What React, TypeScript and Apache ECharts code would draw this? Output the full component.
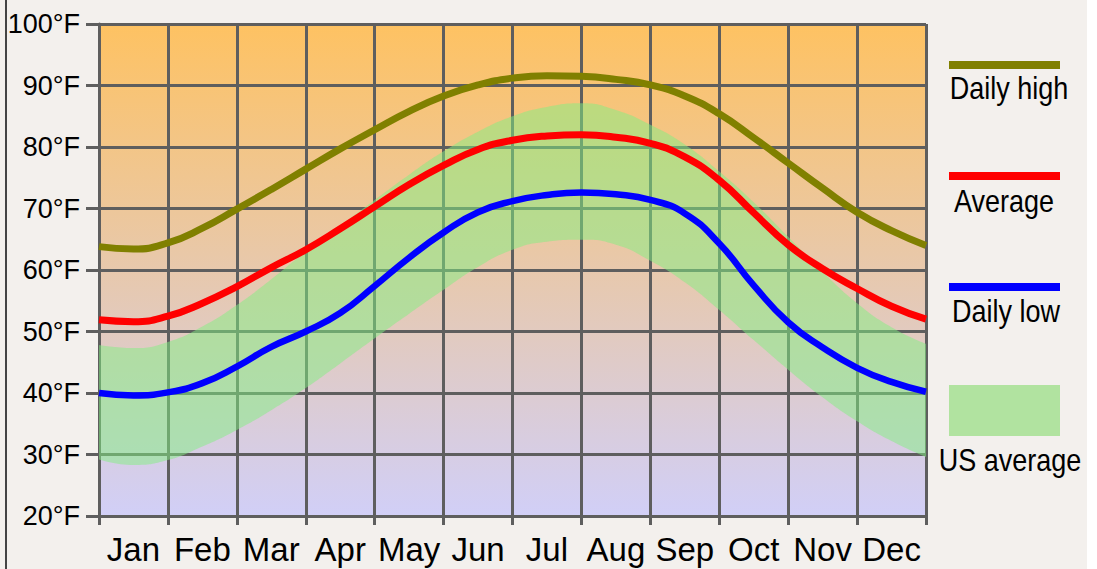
import React, { useEffect, useRef } from "react";
import * as echarts from "echarts";

const months = ["Jan", "Feb", "Mar", "Apr", "May", "Jun", "Jul", "Aug", "Sep", "Oct", "Nov", "Dec"];
// positions along the year (month index, half-month steps)
const xPos = [0, 0.5, 1, 1.5, 2, 2.5, 3, 3.5, 4, 4.5, 5, 5.5, 6, 6.5, 7, 7.5, 8, 8.5, 9, 9.5, 10, 10.5, 11, 11.5, 12];
const dailyHigh = [63.8, 63.4, 64.4, 66.8, 69.9, 73.1, 76.4, 79.7, 82.8, 85.8, 88.3, 90.1, 91.2, 91.6, 91.5, 91.0, 90.1, 88.3, 85.4, 81.5, 77.4, 73.3, 69.4, 66.4, 64.0];
const average = [51.9, 51.6, 52.5, 54.6, 57.3, 60.4, 63.3, 66.7, 70.3, 73.9, 77.0, 79.6, 81.1, 81.8, 82.0, 81.6, 80.6, 78.4, 74.6, 69.3, 64.1, 60.2, 57.0, 54.1, 52.0];
const dailyLow = [40.0, 39.6, 40.1, 41.6, 44.3, 47.5, 50.0, 53.0, 57.4, 62.0, 66.1, 69.4, 71.2, 72.2, 72.6, 72.3, 71.4, 69.2, 64.3, 57.5, 51.5, 47.4, 44.1, 41.8, 40.2];
const usAvgHigh = [47.8, 47.3, 48.3, 50.8, 54.3, 58.5, 63.0, 67.2, 71.4, 75.5, 79.3, 82.5, 85.0, 86.5, 87.1, 86.0, 83.6, 80.4, 76.0, 71.0, 65.4, 59.7, 54.6, 50.7, 48.0];
const usAvgLow = [29.2, 28.3, 29.1, 31.3, 34.0, 37.2, 40.8, 44.8, 48.9, 52.9, 56.8, 60.5, 63.3, 64.6, 64.9, 64.1, 61.5, 58.0, 53.5, 48.6, 43.8, 39.3, 35.4, 32.2, 29.6];
const yTicks = { min: 20, max: 100, interval: 10 };

const FONT = "'Liberation Sans', Arial, sans-serif";
const GRID = "#5E5E5E";

export default function App() {
  const ref = useRef<HTMLDivElement>(null);
  useEffect(() => {
    if (!ref.current) return;
    const chart = echarts.init(ref.current, null, { renderer: "svg" });
    const pts = (arr: number[]) => arr.map((v, i) => [xPos[i], v]);
    const lineSeries = (name: string, arr: number[], color: string, width: number) => ({
      name,
      type: "line",
      data: pts(arr),
      smooth: 0.5,
      symbol: "none",
      xAxisIndex: 0,
      lineStyle: { color, width, cap: "butt" },
      z: 5,
    });
    const legendItems = [
      { label: "Daily high", color: "#808000", lineY: 61, textY: 72, textX: 1009 },
      { label: "Average", color: "#FF0000", lineY: 172, textY: 185, textX: 1004 },
      { label: "Daily low", color: "#0000FF", lineY: 283, textY: 295, textX: 1006 },
    ];
    const graphics: any[] = [
      { type: "rect", shape: { x: 1087, y: 0, width: 10, height: 569 }, style: { fill: "#FFFFFF" }, silent: true },
      { type: "rect", shape: { x: 5, y: 0, width: 2, height: 569 }, style: { fill: "#444444" }, silent: true },
    ];
    const legendText = (text: string, x: number, y: number) => ({
      type: "text",
      x,
      y,
      scaleY: 1.19,
      style: { text, fontSize: 27, fontFamily: FONT, fill: "#000", align: "center", verticalAlign: "top" },
    });
    legendItems.forEach((l) => {
      graphics.push({ type: "rect", shape: { x: 949, y: l.lineY, width: 111, height: 8 }, style: { fill: l.color } });
      graphics.push(legendText(l.label, l.textX, l.textY));
    });
    graphics.push({ type: "rect", shape: { x: 949, y: 385, width: 111, height: 51 }, style: { fill: "#B1E3A0" } });
    graphics.push(legendText("US average", 1010, 444));

    chart.setOption({
      animation: false,
      backgroundColor: "#F3F0ED",
      grid: {
        left: 99,
        right: 171,
        top: 24,
        bottom: 53,
        show: true,
        borderWidth: 0,
        backgroundColor: new echarts.graphic.LinearGradient(0, 0, 0, 1, [
          { offset: 0, color: "#FEC262" },
          { offset: 1, color: "#D1CFF7" },
        ]),
      },
      xAxis: [
        {
          type: "value",
          min: 0,
          max: 12,
          interval: 1,
          axisLine: { show: true, lineStyle: { color: GRID, width: 3 } },
          axisTick: { show: true, length: 9, lineStyle: { color: GRID, width: 3 } },
          axisLabel: { show: false },
          splitLine: { show: true, lineStyle: { color: GRID, width: 3 } },
        },
        {
          type: "category",
          data: months,
          position: "bottom",
          boundaryGap: true,
          axisLine: { show: false },
          axisTick: { show: false },
          splitLine: { show: false },
          axisLabel: { interval: 0, fontSize: 33, fontFamily: FONT, color: "#000", margin: 17 },
        },
        {
          type: "category",
          data: xPos.map(String),
          boundaryGap: false,
          show: false,
        },
      ],
      yAxis: {
        type: "value",
        min: yTicks.min,
        max: yTicks.max,
        interval: yTicks.interval,
        axisLine: { show: true, lineStyle: { color: GRID, width: 3 } },
        axisTick: { show: true, length: 13, lineStyle: { color: GRID, width: 3 } },
        axisLabel: { fontSize: 27, fontFamily: FONT, color: "#000", margin: 19, formatter: (v: number) => `${v}°F` },
        splitLine: { show: true, lineStyle: { color: GRID, width: 3 } },
      },
      series: [
        {
          name: "US average low",
          type: "line",
          xAxisIndex: 2,
          stack: "us",
          data: usAvgLow,
          smooth: 0.5,
          symbol: "none",
          lineStyle: { width: 0, opacity: 0 },
          z: 3,
        },
        {
          name: "US average",
          type: "line",
          xAxisIndex: 2,
          stack: "us",
          data: usAvgHigh.map((v, i) => +(v - usAvgLow[i]).toFixed(2)),
          smooth: 0.5,
          symbol: "none",
          lineStyle: { width: 0, opacity: 0 },
          areaStyle: { color: "rgba(130,239,130,0.5)", opacity: 1 },
          z: 3,
        },
        lineSeries("Daily high", dailyHigh, "#808000", 7),
        lineSeries("Average", average, "#FF0000", 7),
        lineSeries("Daily low", dailyLow, "#0000FF", 6.5),
      ],
      graphic: graphics,
    });
    return () => chart.dispose();
  }, []);
  return <div ref={ref} style={{ position: "fixed", left: 0, top: 0, width: 1097, height: 569 }} />;
}
